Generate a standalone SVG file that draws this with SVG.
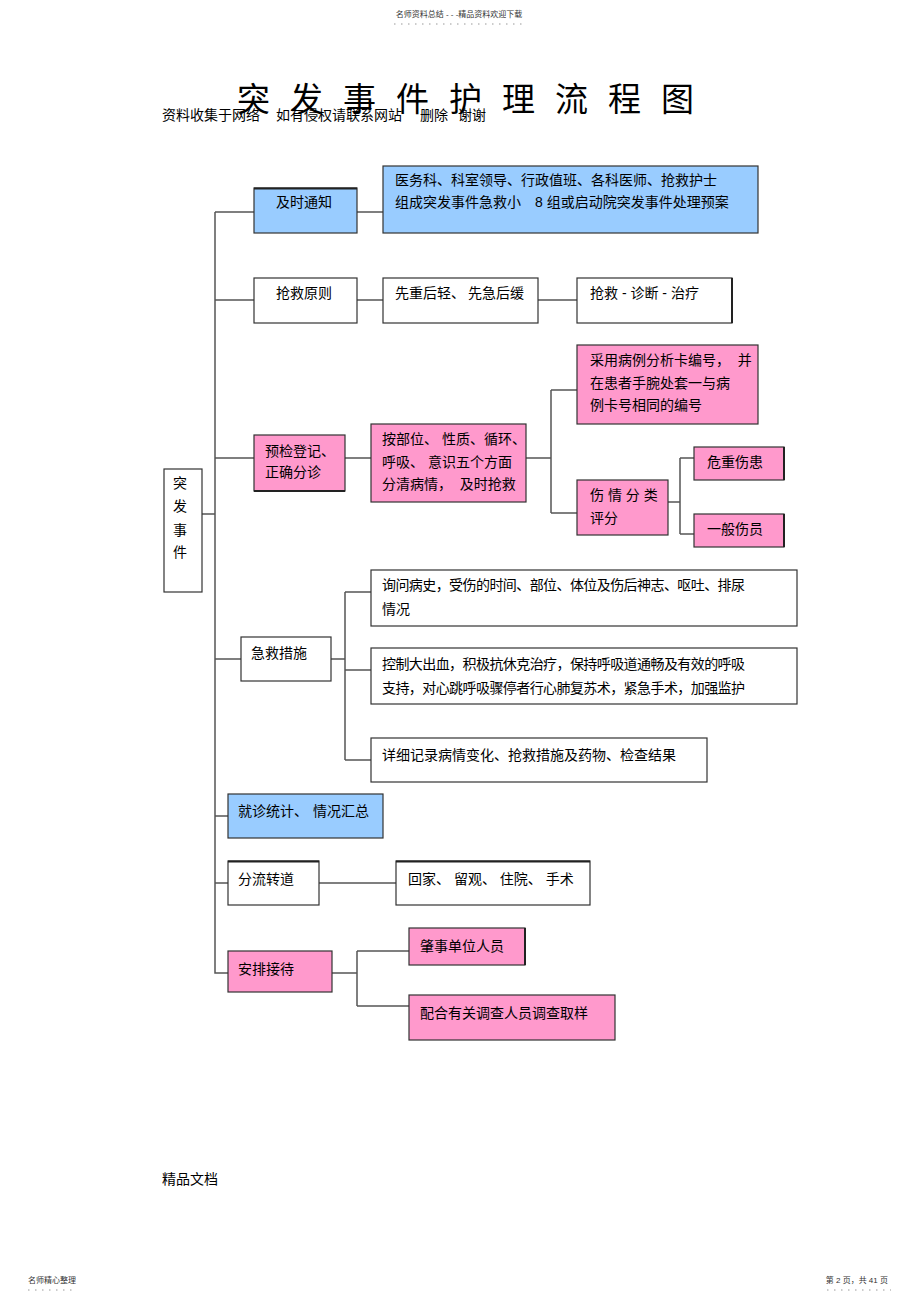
<svg xmlns="http://www.w3.org/2000/svg" width="920" height="1303" viewBox="0 0 920 1303">
<style>
text{font-family:"Liberation Sans","Noto Sans CJK SC",sans-serif;fill:#000;white-space:pre}
.t{font-size:14px}
.s{font-size:8px;fill:#333}
.b{stroke:#333;stroke-width:1.2}
.w{fill:#fff}
.bl{fill:#99CCFF}
.pk{fill:#FF99CC}
.c{fill:none;stroke:#555;stroke-width:1.5}
.d{stroke:#999;stroke-width:1;stroke-dasharray:1.5 5.5}
</style>
<rect width="920" height="1303" fill="#fff"/>
<text class="s" x="459" y="17" text-anchor="middle">名师资料总结 - - -精品资料欢迎下载</text>
<line class="d" x1="394" y1="24" x2="526" y2="24"/>
<text x="237" y="111" style="font-size:33px" letter-spacing="20">突发事件护理流程图</text>
<text class="t" x="162" y="120">资料收集于网络</text>
<text class="t" x="276" y="120">如有侵权请联系网站</text>
<text class="t" x="420" y="120">删除</text>
<text class="t" x="458" y="120">谢谢</text>
<g id="connectors">
<path class="c" d="M202 514H215M215 212V973H228M215 212H254M215 300H254M215 458H254M215 659H241M215 816H228M215 883H228"/>
<path class="c" d="M357 212H383M357 300H383M538 300H577"/>
<path class="c" d="M345 458H371M526 458H551M551 390V513M551 390H577M551 513H577M668 502H680M680 458V534M680 458H694M680 534H694"/>
<path class="c" d="M331 659H345M345 592V760M345 592H371M345 670H371M345 760H371"/>
<path class="c" d="M319 883H396M332 973H357M357 951V1006M357 951H409M357 1006H409"/>
</g>
<g id="root"><rect class="b w" x="164" y="469" width="38" height="123"/>
<text class="t" x="180" y="488" text-anchor="middle">突</text><text class="t" x="180" y="511" text-anchor="middle">发</text><text class="t" x="180" y="535" text-anchor="middle">事</text><text class="t" x="180" y="557" text-anchor="middle">件</text></g>
<g id="n1"><rect class="b bl" x="254" y="188" width="103" height="45"/><line x1="254" y1="188.5" x2="357" y2="188.5" stroke="#222" stroke-width="2"/><text class="t" x="276" y="207">及时通知</text></g>
<g id="n1a"><rect class="b bl" x="383" y="166" width="375" height="67"/><text class="t" x="395" y="185">医务科、科室领导、行政值班、各科医师、抢救护士</text><text class="t" x="395" y="207">组成突发事件急救小</text><text class="t" x="535" y="207">8 组或启动院突发事件处理预案</text></g>
<g id="n2"><rect class="b w" x="254" y="278" width="103" height="45"/><text class="t" x="276" y="298">抢救原则</text></g>
<g id="n2a"><rect class="b w" x="383" y="278" width="155" height="45"/><text class="t" x="395" y="298">先重后轻、</text><text class="t" x="468" y="298">先急后缓</text></g>
<g id="n2b"><rect class="b w" x="577" y="278" width="155" height="45"/><line x1="732" y1="278" x2="732" y2="323" stroke="#222" stroke-width="2"/><text class="t" x="590" y="298">抢救 - 诊断 - 治疗</text></g>
<g id="n3"><rect class="b pk" x="254" y="435" width="91" height="56"/><line x1="254" y1="491" x2="345" y2="491" stroke="#222" stroke-width="2"/><text class="t" x="265" y="456">预检登记、</text><text class="t" x="265" y="477">正确分诊</text></g>
<g id="n3a"><rect class="b pk" x="371" y="424" width="155" height="78"/><text class="t" x="382" y="444">按部位、 性质、循环、</text><text class="t" x="382" y="467">呼吸、 意识五个方面</text><text class="t" x="382" y="489">分清病情，  及时抢救</text></g>
<g id="n3b"><rect class="b pk" x="577" y="345" width="181" height="79"/><text class="t" x="590" y="365">采用病例分析卡编号，  并</text><text class="t" x="590" y="388">在患者手腕处套一与病</text><text class="t" x="590" y="410">例卡号相同的编号</text></g>
<g id="n3c"><rect class="b pk" x="577" y="480" width="91" height="55"/><text class="t" x="590" y="500">伤 情 分 类</text><text class="t" x="590" y="523">评分</text></g>
<g id="n3d"><rect class="b pk" x="694" y="447" width="90" height="33"/><line x1="784" y1="447" x2="784" y2="480" stroke="#222" stroke-width="2"/><text class="t" x="707" y="467">危重伤患</text></g>
<g id="n3e"><rect class="b pk" x="694" y="514" width="90" height="33"/><line x1="784" y1="514" x2="784" y2="547" stroke="#222" stroke-width="2"/><text class="t" x="707" y="534">一般伤员</text></g>
<g id="n4"><rect class="b w" x="241" y="637" width="90" height="44"/><text class="t" x="251" y="658">急救措施</text></g>
<g id="n4a"><rect class="b w" x="371" y="570" width="426" height="56"/><text class="t" x="382" y="590" textLength="363">询问病史，受伤的时间、部位、体位及伤后神志、呕吐、排尿</text><text class="t" x="382" y="614">情况</text></g>
<g id="n4b"><rect class="b w" x="371" y="648" width="426" height="56"/><text class="t" x="382" y="669" textLength="363">控制大出血，积极抗休克治疗，保持呼吸道通畅及有效的呼吸</text><text class="t" x="382" y="693" textLength="363">支持，对心跳呼吸骤停者行心肺复苏术，紧急手术，加强监护</text></g>
<g id="n4c"><rect class="b w" x="371" y="738" width="336" height="44"/><text class="t" x="382" y="760">详细记录病情变化、抢救措施及药物、检查结果</text></g>
<g id="n5"><rect class="b bl" x="228" y="794" width="155" height="44"/><text class="t" x="238" y="816">就诊统计、</text><text class="t" x="313" y="816">情况汇总</text></g>
<g id="n6"><rect class="b w" x="228" y="861" width="91" height="44"/><line x1="228" y1="861.5" x2="319" y2="861.5" stroke="#222" stroke-width="2"/><text class="t" x="238" y="884">分流转道</text></g>
<g id="n6a"><rect class="b w" x="396" y="861" width="194" height="44"/><line x1="396" y1="861.5" x2="590" y2="861.5" stroke="#222" stroke-width="2"/><text class="t" x="408" y="884">回家、 留观、 住院、 手术</text></g>
<g id="n7"><rect class="b pk" x="228" y="951" width="104" height="41"/><text class="t" x="238" y="974">安排接待</text></g>
<g id="n7a"><rect class="b pk" x="409" y="928" width="116" height="37"/><line x1="525" y1="928" x2="525" y2="965" stroke="#222" stroke-width="2"/><text class="t" x="420" y="951">肇事单位人员</text></g>
<g id="n7b"><rect class="b pk" x="409" y="995" width="206" height="45"/><text class="t" x="420" y="1018">配合有关调查人员调查取样</text></g>
<text class="t" x="162" y="1184">精品文档</text>
<text class="s" x="28" y="1283">名师精心整理</text>
<line class="d" x1="28" y1="1290" x2="76" y2="1290"/>
<text class="s" x="888" y="1283" text-anchor="end">第 2 页，共 41 页</text>
<line class="d" x1="827" y1="1290" x2="891" y2="1290"/>
</svg>
